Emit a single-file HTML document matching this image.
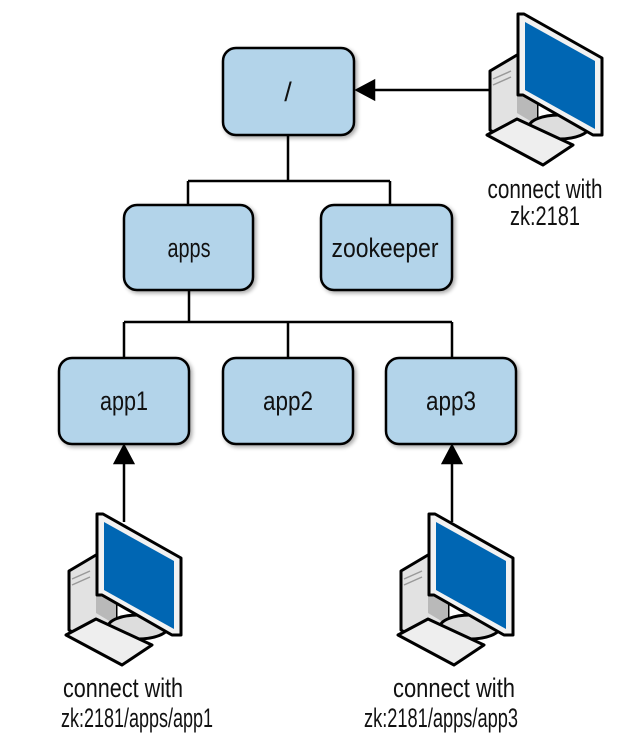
<!DOCTYPE html>
<html><head><style>body{margin:0;background:#fff}svg{display:block}</style></head><body>
<svg width="619" height="747" viewBox="0 0 619 747" xmlns="http://www.w3.org/2000/svg" font-family="'Liberation Sans',sans-serif" font-size="27">
<defs>
<filter id="sh" x="-10%" y="-10%" width="130%" height="130%"><feGaussianBlur in="SourceAlpha" stdDeviation="2"/><feOffset dx="2" dy="2"/><feComponentTransfer><feFuncA type="linear" slope="0.35"/></feComponentTransfer><feMerge><feMergeNode/><feMergeNode in="SourceGraphic"/></feMerge></filter>
<g id="pc" stroke="#000" stroke-width="3" stroke-linejoin="round">
<polygon points="3,58 30,42 50,52 50,112 20,128 3,117" fill="#e2e2e2"/>
<polygon points="30,42 50,52 50,112 30,100" fill="#b9b9b9" stroke="none"/>
<line x1="6" y1="66" x2="24" y2="58" stroke="#999" stroke-width="1.5"/>
<line x1="6" y1="72" x2="24" y2="64" stroke="#999" stroke-width="1.5"/>
<ellipse cx="72" cy="114" rx="30" ry="12" fill="#ddd"/>
<polygon points="31,1 37,1 115,45 115,122 106,122 36,82 31,82" fill="#f2f2f2"/>
<polygon points="38,9 108,48 108,116 38,77" fill="#0066b3" stroke="none"/>
<polygon points="0,122 30,106 86,132 56,152" fill="#eee"/>
</g>
</defs>
<g stroke="#000" stroke-width="2.5" fill="none">
<path d="M288,135V181M188,181H390M188,181V205M390,181V205"/>
<path d="M189,290V322M124,322H452M124,322V358M288,322V358M452,322V358"/>
</g>
<g stroke="#000" stroke-width="2.5">
<line x1="492" y1="90" x2="372" y2="90"/><polygon points="357,90 374,81 374,99" fill="#000"/>
<line x1="124" y1="522" x2="124" y2="462"/><polygon points="124,446 115,463 133,463" fill="#000"/>
<line x1="452" y1="522" x2="452" y2="462"/><polygon points="452,446 443,463 461,463" fill="#000"/>
</g>
<g fill="#b3d4ea" stroke="#000" stroke-width="2.5" filter="url(#sh)">
<rect x="223" y="48" width="131" height="87" rx="13"/>
<rect x="124" y="205" width="129" height="85" rx="13"/>
<rect x="321" y="205" width="131" height="85" rx="13"/>
<rect x="59" y="358" width="130" height="86" rx="13"/>
<rect x="223" y="358" width="130" height="86" rx="13"/>
<rect x="386" y="358" width="130" height="86" rx="13"/>
</g>
<g text-anchor="middle" fill="#111">
<text x="288" y="101">/</text>
<text x="189" y="257" textLength="43" lengthAdjust="spacingAndGlyphs">apps</text>
<text x="385" y="257" textLength="107" lengthAdjust="spacingAndGlyphs">zookeeper</text>
<text x="124" y="410" textLength="48" lengthAdjust="spacingAndGlyphs">app1</text>
<text x="288" y="410" textLength="50" lengthAdjust="spacingAndGlyphs">app2</text>
<text x="451" y="410" textLength="50" lengthAdjust="spacingAndGlyphs">app3</text>
<text x="545" y="198" textLength="115" lengthAdjust="spacingAndGlyphs">connect with</text>
<text x="545" y="225" textLength="70" lengthAdjust="spacingAndGlyphs">zk:2181</text>
<text x="123" y="697" textLength="120" lengthAdjust="spacingAndGlyphs">connect with</text>
<text x="137" y="727" textLength="152" lengthAdjust="spacingAndGlyphs">zk:2181/apps/app1</text>
<text x="454" y="697" textLength="122" lengthAdjust="spacingAndGlyphs">connect with</text>
<text x="441" y="727" textLength="154" lengthAdjust="spacingAndGlyphs">zk:2181/apps/app3</text>
</g>
<use href="#pc" x="487" y="13"/>
<use href="#pc" x="66" y="513"/>
<use href="#pc" x="398" y="513"/>
</svg>
</body></html>
